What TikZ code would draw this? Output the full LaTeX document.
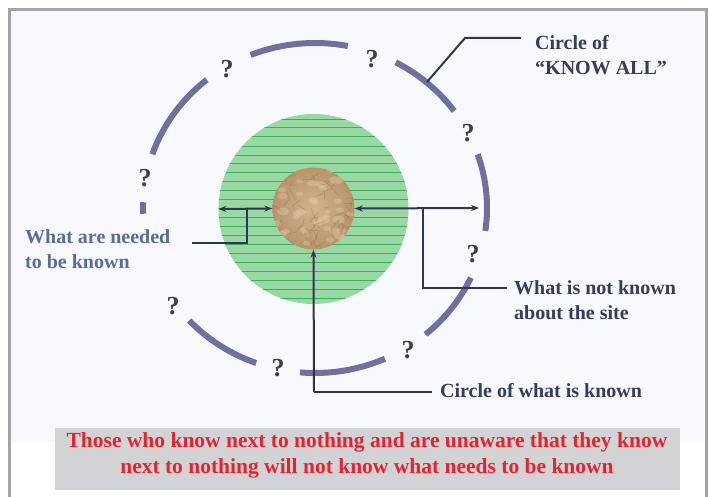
\documentclass[tikz,border=0pt]{standalone}
\usepackage{fontspec}
\setmainfont{Liberation Serif}
\usetikzlibrary{arrows.meta}
\definecolor{ringcol}{HTML}{6F6FA0}
\definecolor{linecol}{HTML}{2E3554}
\definecolor{lblcol}{HTML}{363C5C}
\definecolor{bluelbl}{HTML}{5A6C9C}
\definecolor{redtxt}{HTML}{E52330}
\definecolor{boxgray}{HTML}{D2D3D5}
\definecolor{framegray}{HTML}{A4A4A4}
\definecolor{panel}{HTML}{F8F9FC}
\definecolor{greenbase}{HTML}{98D8A2}
\definecolor{greenline}{HTML}{3DAE5E}
\definecolor{brownin}{HTML}{D2B48D}
\definecolor{brownout}{HTML}{B8946C}
\definecolor{wrinkle}{HTML}{7E5F3F}
\definecolor{paperhi}{HTML}{E6D2B2}
\definecolor{qcol}{HTML}{3A3D55}
\tikzset{
  ring/.style={draw=ringcol, line width=6pt},
  conn/.style={draw=linecol, line width=2pt},
  tip/.style={-{Stealth[length=8pt,width=6pt]}},
  dtip/.style={{Stealth[length=8pt,width=6pt]}-{Stealth[length=8pt,width=6pt]}},
  lbl/.style={text=lblcol, font=\bfseries\fontsize{20}{25}\selectfont, align=left, inner sep=0pt},
  qm/.style={text=qcol, font=\bfseries\fontsize{26}{26}\selectfont, inner sep=0pt},
}
\begin{document}
\begin{tikzpicture}[x=1pt,y=-1pt]
\useasboundingbox (0,0) rectangle (709,497);
\fill[white] (0,0) rectangle (709,497);
\fill[panel] (9,10) rectangle (706,442);
\draw[framegray, line width=3pt] (9,497) -- (9,10) -- (706,10) -- (706,497);

% green disk
\node[circle, minimum size=190pt, inner sep=0pt] (gc) at (313.5,209) {};
\begin{scope}
  \clip (313.5,209) circle[radius=95];
  \fill[greenbase] (213,110) rectangle (414,308);
  \foreach \yy in {119,127,136,146,155,163,172,181,190,199,208,217,226,235,244,253,262,271,280,289,298}
    \draw[greenline, line width=0.8pt] (213,\yy) -- (414,\yy);
\end{scope}

% brown disk
\node[circle, minimum size=82pt, inner sep=0pt] (bc) at (313.5,208.5) {};
\begin{scope}
  \clip (313.5,208.5) circle[radius=41];
  \shade[inner color=brownin, outer color=brownout] (313.5,208.5) circle[radius=41];
  \pgfmathsetseed{11}
  \foreach \i in {1,...,40}{
    \pgfmathsetmacro{\ax}{313.5+40*rand}
    \pgfmathsetmacro{\ay}{208.5+40*rand}
    \pgfmathsetmacro{\rr}{3+4*rnd}
    \fill[paperhi, opacity=0.35] (\ax,\ay) ellipse[x radius=\rr, y radius=0.6*\rr];
  }
  \foreach \i in {1,...,45}{
    \pgfmathsetmacro{\ax}{313.5+38*rand}
    \pgfmathsetmacro{\ay}{208.5+38*rand}
    \pgfmathsetmacro{\bx}{\ax+9*rand}
    \pgfmathsetmacro{\by}{\ay+9*rand}
    \pgfmathsetmacro{\cx}{\bx+8*rand}
    \pgfmathsetmacro{\cy}{\by+8*rand}
    \draw[wrinkle, opacity=0.3, line width=0.7pt] (\ax,\ay) -- (\bx,\by) -- (\cx,\cy);
  }
\end{scope}

% outer dashed ring
\foreach \sa/\ea in {-112/-79, -62/-36, -19/8, 25/50, 66/95, 110/137, 178/182, 199/231}
  \draw[ring] (315,208) ++(\sa:172 and 165) arc[start angle=\sa, end angle=\ea, x radius=172, y radius=165];

% question marks
\node[qm] (q1) at (227,69) {?};
\node[qm] (q2) at (372,59) {?};
\node[qm] (q3) at (468,133) {?};
\node[qm] (q4) at (473,254) {?};
\node[qm] (q5) at (408,350) {?};
\node[qm] (q6) at (278,368) {?};
\node[qm] (q7) at (173,306) {?};
\node[qm] (q8) at (145,178) {?};

% labels
\node[lbl, anchor=west] (know) at (535,55) {Circle of\\“KNOW ALL”};
\node[lbl, anchor=west, text=bluelbl] (need) at (25,249) {What are needed\\to be known};
\node[lbl, anchor=west] (notk) at (514,300) {What is not known\\about the site};
\node[lbl, anchor=west] (known) at (440,391) {Circle of what is known};

% connectors
\coordinate (ka) at (427,82);
\coordinate (kb) at (465,38);
\coordinate (kc) at (521,38);
\draw[conn] (ka) -- (kb) -- (kc);

\draw[conn, dtip] (gc.west) -- (bc.west);
\coordinate (nl) at (192,243);
\coordinate (nb) at (247,208);
\draw[conn] (nl) -| (nb);

\coordinate (rk) at (479,208);
\draw[conn, dtip] (bc.east) -- (rk);
\coordinate (rb) at (423,208);
\coordinate (rl) at (507,288);
\draw[conn] (rb) |- (rl);

\coordinate (kl) at (432,392);
\coordinate (kv) at (314,392);
\draw[conn] (kl) -- (kv);
\draw[conn, tip] (kv) -- (bc.south);

% bottom message
\fill[boxgray] (55,428) rectangle (680,490);
\node[text=redtxt, font=\bfseries\fontsize{21.5}{26}\selectfont, align=center, inner sep=0pt] (msg) at (367,455)
  {Those who know next to nothing and are unaware that they know\\next to nothing will not know what needs to be known};
\end{tikzpicture}
\end{document}
